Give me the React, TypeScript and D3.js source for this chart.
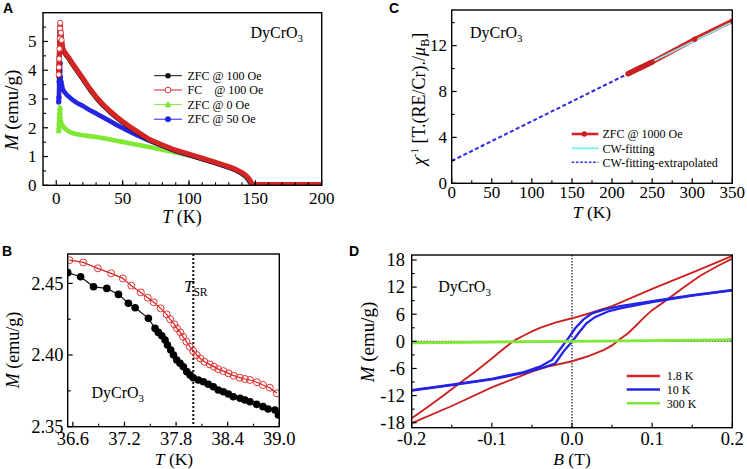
import React from "react";
import * as d3 from "d3";

// ---------------- Panel A data ----------------
const A_T = [1.8, 2.0, 2.2, 2.4, 2.6, 2.8, 3.0, 3.5, 4, 5, 6, 8, 10, 12, 15, 20, 25, 30, 35, 40, 45, 50, 55, 60, 70, 80, 90, 100, 110, 120, 130, 135, 140, 143, 145, 146, 147, 148, 149, 150, 160, 170, 180, 190, 200];
const A_ZFC100 = [3.8, 4.05, 4.45, 4.8, 5.15, 5.4, 5.55, 5.25, 5.0, 4.72, 4.62, 4.49, 4.37, 4.22, 4.02, 3.69, 3.35, 3.05, 2.79, 2.57, 2.37, 2.19, 2.02, 1.87, 1.58, 1.38, 1.2, 1.06, 0.92, 0.78, 0.63, 0.54, 0.42, 0.32, 0.22, 0.15, 0.06, 0.03, 0.02, 0.02, 0.02, 0.02, 0.02, 0.02, 0.02];
const A_FC100 = [3.85, 4.1, 4.4, 4.75, 5.1, 5.45, 5.65, 5.3, 5.05, 4.75, 4.65, 4.52, 4.4, 4.25, 4.05, 3.72, 3.38, 3.08, 2.82, 2.6, 2.4, 2.22, 2.05, 1.9, 1.6, 1.4, 1.22, 1.08, 0.94, 0.8, 0.65, 0.56, 0.44, 0.34, 0.24, 0.17, 0.08, 0.04, 0.03, 0.03, 0.03, 0.03, 0.03, 0.03, 0.03];
const A_ZFC0 = [1.9, 2.0, 2.2, 2.4, 2.55, 2.7, 2.3, 2.2, 2.13, 2.06, 2.0, 1.92, 1.86, 1.82, 1.78, 1.74, 1.71, 1.68, 1.64, 1.6, 1.55, 1.51, 1.46, 1.42, 1.33, 1.24, 1.14, 1.04, 0.93, 0.8, 0.64, 0.54, 0.4, 0.27, 0.14, 0.05, 0.02, 0.02, 0.02, 0.02, 0.02, 0.02, 0.02, 0.02, 0.02];
const A_ZFC50 = [2.9, 3.05, 3.6, 3.7, 4.0, 4.25, 3.75, 3.6, 3.48, 3.33, 3.25, 3.14, 3.06, 2.98, 2.88, 2.76, 2.62, 2.5, 2.37, 2.24, 2.11, 1.99, 1.87, 1.76, 1.55, 1.37, 1.19, 1.05, 0.91, 0.77, 0.62, 0.53, 0.4, 0.3, 0.18, 0.1, 0.04, 0.02, 0.02, 0.02, 0.02, 0.02, 0.02, 0.02, 0.02];
const A_xTicks = [0, 50, 100, 150, 200];
const A_xTickLabels = ["0", "50", "100", "150", "200"];
const A_yTicks = [0, 1, 2, 3, 4, 5];
const A_yTickLabels = ["0", "1", "2", "3", "4", "5"];
const A_legend = ["ZFC @ 100 Oe", "FC    @ 100 Oe", "ZFC @ 0 Oe", "ZFC @ 50 Oe"];

// ---------------- Panel B data ----------------
const B_ZFC_T = [36.54, 36.69, 36.84, 36.995, 37.13, 37.246, 37.324, 37.478, 37.556, 37.594, 37.634, 37.672, 37.7, 37.738, 37.77, 37.808, 37.846, 37.885, 37.924, 37.963, 38.0, 38.059, 38.117, 38.175, 38.233, 38.29, 38.35, 38.408, 38.466, 38.544, 38.6, 38.66, 38.737, 38.81, 38.87, 38.95, 38.99];
const B_ZFC_M = [2.4575, 2.4546, 2.4476, 2.4465, 2.4423, 2.4361, 2.433, 2.4256, 2.4186, 2.4158, 2.4135, 2.4105, 2.407, 2.4035, 2.4, 2.3965, 2.3942, 2.3918, 2.3884, 2.386, 2.3842, 2.3826, 2.3814, 2.3796, 2.3779, 2.3756, 2.3744, 2.3728, 2.3709, 2.3698, 2.3686, 2.3674, 2.3656, 2.364, 2.3623, 2.3616, 2.3582];
const B_FC_T = [36.56, 36.72, 36.89, 37.045, 37.18, 37.28, 37.39, 37.47, 37.54, 37.62, 37.69, 37.73, 37.78, 37.81, 37.85, 37.88, 37.92, 37.96, 38.0, 38.04, 38.08, 38.13, 38.19, 38.24, 38.29, 38.35, 38.41, 38.47, 38.54, 38.6, 38.66, 38.74, 38.81, 38.89, 38.97];
const B_FC_M = [2.4662, 2.4646, 2.4605, 2.457, 2.4535, 2.4484, 2.4437, 2.44, 2.4368, 2.4326, 2.4284, 2.4251, 2.4214, 2.4186, 2.4158, 2.4128, 2.4093, 2.4058, 2.4028, 2.4, 2.3977, 2.3953, 2.3935, 2.3919, 2.3902, 2.3888, 2.3872, 2.3856, 2.3842, 2.3833, 2.3826, 2.381, 2.3791, 2.3772, 2.3733];
const B_TSR = 38.0;
const B_xTicks = [36.6, 37.2, 37.8, 38.4, 39.0];
const B_xTickLabels = ["36.6", "37.2", "37.8", "38.4", "39.0"];
const B_xMinor = [36.9, 37.5, 38.1, 38.7];
const B_yTicks = [2.35, 2.4, 2.45];
const B_yTickLabels = ["2.35", "2.40", "2.45"];
const B_yMinor = [2.375, 2.425];

// ---------------- Panel C data ----------------
const C_T = [220, 222, 224, 226, 228, 230, 232, 234, 236, 238, 240, 242, 244, 246, 248, 250, 303, 350];
const C_chi = [9.55, 9.62, 9.69, 9.75, 9.82, 9.89, 9.96, 10.02, 10.09, 10.16, 10.23, 10.29, 10.36, 10.43, 10.5, 10.56, 12.55, 14.15];
const C_fitT = [220, 350];
const C_fitChi = [9.55, 14.05];
const C_extT = [0, 220];
const C_extChi = [1.95, 9.55];
const C_xTicks = [0, 50, 100, 150, 200, 250, 300, 350];
const C_xTickLabels = ["0", "50", "100", "150", "200", "250", "300", "350"];
const C_xMinor = [25, 75, 125, 175, 225, 275, 325];
const C_yTicks = [0, 4, 8, 12];
const C_yTickLabels = ["0", "4", "8", "12"];
const C_yMinor = [2, 6, 10, 14];
const C_legend = ["ZFC @ 1000 Oe", "CW-fitting", "CW-fitting-extrapolated"];

// ---------------- Panel D data ----------------
const D_red_down_B = [0.2, 0.15, 0.1, 0.05, 0.02, 0.0, -0.02, -0.04, -0.05, -0.06, -0.07, -0.075, -0.09, -0.1, -0.12, -0.14, -0.16, -0.18, -0.2];
const D_red_down_M = [18.9, 15.2, 11.6, 7.8, 6.1, 5.1, 4.2, 3.0, 2.2, 1.3, 0.4, -0.2, -2.3, -3.8, -6.6, -9.2, -11.9, -14.5, -17.0];
const D_red_up_B = [-0.2, -0.15, -0.1, -0.05, -0.03, 0.0, 0.02, 0.04, 0.05, 0.055, 0.06, 0.07, 0.08, 0.09, 0.1, 0.12, 0.14, 0.16, 0.18, 0.2];
const D_red_up_M = [-18.1, -14.3, -10.2, -6.7, -5.6, -4.4, -3.3, -1.9, -0.9, -0.2, 0.5, 1.8, 3.5, 5.3, 6.9, 9.4, 12.0, 14.5, 16.5, 18.3];
const D_blue_down_B = [0.2, 0.15, 0.1, 0.06, 0.04, 0.025, 0.014, 0.004, -0.005, -0.013, -0.025, -0.04, -0.06, -0.1, -0.15, -0.2];
const D_blue_down_M = [11.35, 10.2, 8.9, 7.8, 7.0, 6.2, 4.8, 2.9, 0.6, -1.3, -4.1, -5.6, -6.8, -8.3, -9.6, -10.8];
const D_blue_up_B = [-0.2, -0.15, -0.1, -0.06, -0.04, -0.021, -0.009, 0.0, 0.008, 0.018, 0.029, 0.045, 0.06, 0.1, 0.15, 0.2];
const D_blue_up_M = [-10.9, -9.7, -8.4, -7.0, -6.0, -4.9, -1.9, -0.1, 1.8, 4.0, 5.4, 6.6, 7.3, 8.7, 10.1, 11.3];
const D_green_B = [-0.2, -0.1, 0.0, 0.1, 0.2];
const D_green_M = [-0.35, -0.17, 0.0, 0.17, 0.35];
const D_xTicks = [-0.2, -0.1, 0.0, 0.1, 0.2];
const D_xTickLabels = ["-0.2", "-0.1", "0.0", "0.1", "0.2"];
const D_xMinor = [-0.15, -0.05, 0.05, 0.15];
const D_yTicks = [-18, -12, -6, 0, 6, 12, 18];
const D_yTickLabels = ["-18", "-12", "-6", "0", "6", "12", "18"];
const D_yMinor = [-15, -9, -3, 3, 9, 15];
const D_legend = ["1.8 K", "10 K", "300 K"];

const FONT = "'Liberation Serif', 'Times New Roman', Times, serif";
const SANS = "'Liberation Sans', Arial, sans-serif";
const RED = "#d42424";
const BLUE = "#2424e6";
const GREEN = "#7fe834";

type Sc = d3.ScaleLinear<number, number>;

function zip(a: number[], b: number[]): [number, number][] {
  return a.map((v, i) => [v, b[i]]);
}

function Axes(props: {
  xs: Sc; ys: Sc; xTicks: number[]; xLabels: string[]; xMinor: number[];
  yTicks: number[]; yLabels: string[]; yMinor: number[]; fs: number;
  xBase: number; yRight: number;
}) {
  const { xs, ys, xTicks, xLabels, xMinor, yTicks, yLabels, yMinor, fs, xBase, yRight } = props;
  const [x0, x1] = xs.range();
  const [y0, y1] = ys.range();
  return (
    <g>
      {xTicks.map((v, i) => <line key={"xm" + i} x1={xs(v)} x2={xs(v)} y1={y0} y2={y0 - 5} stroke="#000" strokeWidth={1.2} />)}
      {xMinor.map((v, i) => <line key={"xn" + i} x1={xs(v)} x2={xs(v)} y1={y0} y2={y0 - 3} stroke="#000" strokeWidth={1.1} />)}
      {yTicks.map((v, i) => <line key={"ym" + i} x1={x0} x2={x0 + 5} y1={ys(v)} y2={ys(v)} stroke="#000" strokeWidth={1.2} />)}
      {yMinor.map((v, i) => <line key={"yn" + i} x1={x0} x2={x0 + 3} y1={ys(v)} y2={ys(v)} stroke="#000" strokeWidth={1.1} />)}
      <rect x={x0} y={y1} width={x1 - x0} height={y0 - y1} fill="none" stroke="#000" strokeWidth={1.4} />
      {xTicks.map((v, i) => (
        <text key={"xl" + i} x={xs(v)} y={xBase} textAnchor="middle" fontSize={fs} fontFamily={FONT}>{xLabels[i]}</text>
      ))}
      {yTicks.map((v, i) => (
        <text key={"yl" + i} x={yRight} y={ys(v)} dy="0.34em" textAnchor="end" fontSize={fs} fontFamily={FONT}>{yLabels[i]}</text>
      ))}
    </g>
  );
}

function Formula({ x, y, fs }: { x: number; y: number; fs: number }) {
  return (
    <text x={x} y={y} fontSize={fs} fontFamily={FONT}>
      DyCrO<tspan dy={fs * 0.28} fontSize={fs * 0.68}>3</tspan>
    </text>
  );
}

function YTitle({ x, y, fs }: { x: number; y: number; fs: number }) {
  return (
    <text transform={`translate(${x},${y}) rotate(-90)`} textAnchor="middle" fontSize={fs} fontFamily={FONT}>
      <tspan fontStyle="italic">M</tspan> (emu/g)
    </text>
  );
}

function XTitle({ x, y, fs, v, u }: { x: number; y: number; fs: number; v: string; u: string }) {
  return (
    <text x={x} y={y} textAnchor="middle" fontSize={fs} fontFamily={FONT}>
      <tspan fontStyle="italic">{v}</tspan> {u}
    </text>
  );
}

function PanelA() {
  const xs = d3.scaleLinear().domain([-10, 200]).range([43, 321.7]);
  const ys = d3.scaleLinear().domain([0, 6]).range([185.3, 12.7]);
  const line = d3.line<[number, number]>().x(d => xs(d[0])).y(d => ys(d[1]));
  const series = [
    { m: A_ZFC0, c: GREEN, w: 4.6, mk: "tri" },
    { m: A_ZFC50, c: BLUE, w: 4.6, mk: "dot" },
    { m: A_ZFC100, c: "#111", w: 4.8, mk: "fill" },
    { m: A_FC100, c: RED, w: 5, mk: "open" },
  ];
  const marker = (mk: string, c: string, x: number, y: number, k: string, s = 1) => {
    if (mk === "tri") {
      const r = 3.2 * s;
      return <path key={k} d={`M${x},${y - r}L${x + r},${y + r * 0.8}L${x - r},${y + r * 0.8}Z`} fill={c} />;
    }
    if (mk === "open") return <circle key={k} cx={x} cy={y} r={2.6 * s} fill="#fff" stroke="#e03a3a" strokeWidth={1} />;
    if (mk === "dot") return <circle key={k} cx={x} cy={y} r={2.5 * s} fill={c} stroke={c} strokeWidth={0.5} />;
    return <circle key={k} cx={x} cy={y} r={2.5 * s} fill={c} />;
  };
  const legendColors = ["#111", RED, GREEN, BLUE];
  const legendMk = ["fill", "open", "tri", "dot"];
  const legendY = [75.7, 90, 104.4, 119.2];
  return (
    <g>
      <defs>
        <clipPath id="clipA"><rect x={43} y={12.7} width={278.7} height={172.6} /></clipPath>
      </defs>
      <g clipPath="url(#clipA)">
        {series.map((s, si) => {
          const pts = zip(A_T, s.m);
          return (
            <g key={si}>
              <path d={line(pts) || ""} fill="none" stroke={s.c} strokeWidth={s.w} strokeLinejoin="round" />
              {pts.slice(0, 9).map((p, i) => marker(s.mk, s.c, xs(p[0]), ys(p[1]), "m" + i))}
            </g>
          );
        })}
      </g>
      <Axes xs={xs} ys={ys} xTicks={A_xTicks} xLabels={A_xTickLabels} xMinor={d3.range(10, 200, 10)}
        yTicks={A_yTicks} yLabels={A_yTickLabels} yMinor={d3.range(0.5, 6, 1)} fs={17} xBase={203.5} yRight={36.5} />
      <XTitle x={182} y={223} fs={18} v="T" u="(K)" />
      <YTitle x={18} y={110} fs={19} />
      <Formula x={250.5} y={38} fs={16} />
      {A_legend.map((t, i) => (
        <g key={i}>
          <line x1={154} x2={182} y1={legendY[i]} y2={legendY[i]} stroke={legendColors[i]} strokeWidth={1} />
          {marker(legendMk[i], legendColors[i], 168, legendY[i], "l" + i, 1.1)}
          <text x={187.5} y={legendY[i]} dy="0.35em" fontSize={12} fontFamily={FONT} style={{ whiteSpace: "pre" }}>{t}</text>
        </g>
      ))}
      <text x={3} y={12.7} fontSize={14} fontWeight="bold" fontFamily={SANS}>A</text>
    </g>
  );
}

function PanelB() {
  const xs = d3.scaleLinear().domain([36.54, 39.0]).range([67.7, 279.3]);
  const ys = d3.scaleLinear().domain([2.35, 2.4705]).range([426.7, 254]);
  const line = d3.line<[number, number]>().x(d => xs(d[0])).y(d => ys(d[1]));
  const zfc = zip(B_ZFC_T, B_ZFC_M);
  const fc = zip(B_FC_T, B_FC_M);
  return (
    <g>
      <defs>
        <clipPath id="clipB"><rect x={67.7} y={254} width={211.6} height={172.7} /></clipPath>
      </defs>
      <line x1={xs(B_TSR)} x2={xs(B_TSR)} y1={254} y2={426.7} stroke="#111" strokeWidth={2} strokeDasharray="2,2" />
      <g clipPath="url(#clipB)">
        <path d={line(fc) || ""} fill="none" stroke={RED} strokeWidth={1.2} />
        <path d={line(zfc) || ""} fill="none" stroke="#111" strokeWidth={1.2} />
        {zfc.map((p, i) => <circle key={"z" + i} cx={xs(p[0])} cy={ys(p[1])} r={3.8} fill="#000" />)}
        {fc.map((p, i) => <circle key={"f" + i} cx={xs(p[0])} cy={ys(p[1])} r={3.5} fill="none" stroke="#e03535" strokeWidth={1} />)}
      </g>
      <Axes xs={xs} ys={ys} xTicks={B_xTicks} xLabels={B_xTickLabels} xMinor={B_xMinor}
        yTicks={B_yTicks} yLabels={B_yTickLabels} yMinor={B_yMinor} fs={18.5} xBase={445} yRight={63.5} />
      <XTitle x={174} y={465} fs={17.5} v="T" u="(K)" />
      <YTitle x={19} y={350} fs={18} />
      <Formula x={91.5} y={398} fs={16} />
      <text x={184} y={291.5} fontSize={17} fontFamily={FONT}>
        <tspan fontStyle="italic">T</tspan><tspan dy={4} fontSize={11.5}>SR</tspan>
      </text>
      <text x={2} y={255.5} fontSize={14} fontWeight="bold" fontFamily={SANS}>B</text>
    </g>
  );
}

function PanelC() {
  const xs = d3.scaleLinear().domain([0, 350]).range([451.7, 732.3]);
  const ys = d3.scaleLinear().domain([0, 15.1]).range([183.3, 10]);
  const line = d3.line<[number, number]>().x(d => xs(d[0])).y(d => ys(d[1]));
  const data = zip(C_T, C_chi);
  const legendY = [134, 148.3, 162.3];
  return (
    <g>
      <defs>
        <clipPath id="clipC"><rect x={451.7} y={10} width={280.6} height={173.3} /></clipPath>
      </defs>
      <g clipPath="url(#clipC)">
        <path d={line(zip(C_extT, C_extChi)) || ""} fill="none" stroke="#2a2aea" strokeWidth={2} strokeDasharray="4,2.5" />
        <path d={line(data) || ""} fill="none" stroke={RED} strokeWidth={4.6} />
        <path d={line(zip(C_fitT, C_fitChi)) || ""} fill="none" stroke="#86f0ee" strokeWidth={1.8} />
        {data.map((p, i) => <circle key={i} cx={xs(p[0])} cy={ys(p[1])} r={2.7} fill="#c82020" />)}
      </g>
      <Axes xs={xs} ys={ys} xTicks={C_xTicks} xLabels={C_xTickLabels} xMinor={C_xMinor}
        yTicks={C_yTicks} yLabels={C_yTickLabels} yMinor={C_yMinor} fs={17} xBase={197.5} yRight={447} />
      <XTitle x={592} y={217.5} fs={17.5} v="T" u="(K)" />
      <text transform="translate(425,99) rotate(-90)" textAnchor="middle" fontSize={18} fontFamily={FONT}>
        <tspan fontStyle="italic">χ</tspan><tspan dy={-7} fontSize={11}>-1</tspan><tspan dy={7}> [T.(RE/Cr)./</tspan><tspan fontStyle="italic">μ</tspan><tspan dy={4} fontSize={12}>B</tspan><tspan dy={-4}>]</tspan>
      </text>
      <Formula x={470} y={38} fs={16} />
      <line x1={571.7} x2={598.3} y1={legendY[0]} y2={legendY[0]} stroke={RED} strokeWidth={2.6} />
      <circle cx={584.3} cy={legendY[0]} r={2.8} fill="#c82020" />
      <line x1={571.7} x2={598.3} y1={legendY[1]} y2={legendY[1]} stroke="#86f0ee" strokeWidth={2} />
      <line x1={571.7} x2={598.3} y1={legendY[2]} y2={legendY[2]} stroke="#2a2aea" strokeWidth={1.4} strokeDasharray="2.5,1.8" />
      {C_legend.map((t, i) => (
        <text key={i} x={602.5} y={legendY[i]} dy="0.35em" fontSize={12} fontFamily={FONT}>{t}</text>
      ))}
      <text x={389} y={12.7} fontSize={14} fontWeight="bold" fontFamily={SANS}>C</text>
    </g>
  );
}

function PanelD() {
  const xs = d3.scaleLinear().domain([-0.2, 0.2]).range([411.7, 732.3]);
  const ys = d3.scaleLinear().domain([-19.1, 19.1]).range([427.7, 255]);
  const line = d3.line<[number, number]>().x(d => xs(d[0])).y(d => ys(d[1]));
  const legendY = [376, 389.5, 403.3];
  const legendC = [RED, BLUE, GREEN];
  return (
    <g>
      <defs>
        <clipPath id="clipD"><rect x={411.7} y={255} width={320.6} height={172.7} /></clipPath>
      </defs>
      <line x1={xs(0)} x2={xs(0)} y1={255} y2={427.7} stroke="#333" strokeWidth={1.4} strokeDasharray="1.5,1.5" />
      <line x1={411.7} x2={732.3} y1={ys(0)} y2={ys(0)} stroke="#333" strokeWidth={1.4} strokeDasharray="1.5,1.5" />
      <g clipPath="url(#clipD)">
        <path d={line(zip(D_red_down_B, D_red_down_M)) || ""} fill="none" stroke="#cc2222" strokeWidth={1.9} />
        <path d={line(zip(D_red_up_B, D_red_up_M)) || ""} fill="none" stroke="#cc2222" strokeWidth={1.9} />
        <path d={line(zip(D_blue_down_B, D_blue_down_M)) || ""} fill="none" stroke={BLUE} strokeWidth={2.3} />
        <path d={line(zip(D_blue_up_B, D_blue_up_M)) || ""} fill="none" stroke={BLUE} strokeWidth={2.3} />
        <path d={line(zip(D_green_B, D_green_M)) || ""} fill="none" stroke={GREEN} strokeWidth={2.8} />
      </g>
      <Axes xs={xs} ys={ys} xTicks={D_xTicks} xLabels={D_xTickLabels} xMinor={D_xMinor}
        yTicks={D_yTicks} yLabels={D_yTickLabels} yMinor={D_yMinor} fs={18.5} xBase={445} yRight={405} />
      <XTitle x={572} y={465} fs={17.5} v="B" u="(T)" />
      <YTitle x={374} y={342} fs={19} />
      <Formula x={438.3} y={291.7} fs={16} />
      {D_legend.map((t, i) => (
        <g key={i}>
          <line x1={626.7} x2={660} y1={legendY[i]} y2={legendY[i]} stroke={legendC[i]} strokeWidth={2.4} />
          <text x={666.7} y={legendY[i]} dy="0.35em" fontSize={12} fontFamily={FONT}>{t}</text>
        </g>
      ))}
      <text x={349} y={255.5} fontSize={14} fontWeight="bold" fontFamily={SANS}>D</text>
    </g>
  );
}

export default function App() {
  return (
    <svg width={747} height={469} viewBox="0 0 747 469"
      style={{ position: "absolute", left: 0, top: 0, background: "#fff", fontFamily: FONT }}
      fontFamily={FONT}>
      <rect x={0} y={0} width={747} height={469} fill="#fff" />
      <PanelA />
      <PanelB />
      <PanelC />
      <PanelD />
    </svg>
  );
}
